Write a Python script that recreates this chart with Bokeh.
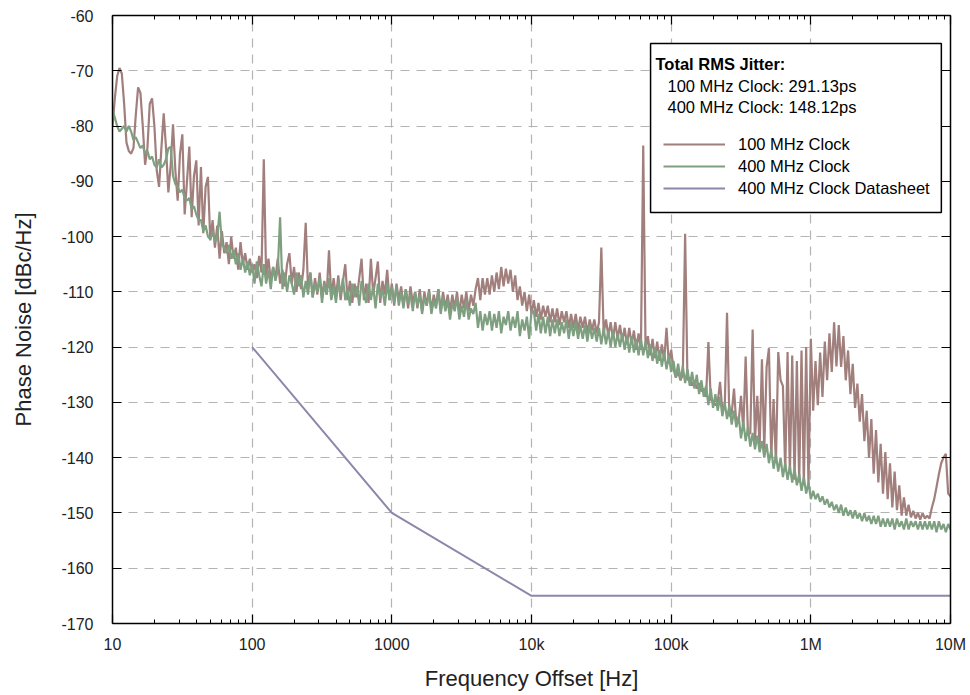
import numpy as np
from bokeh.plotting import figure
from bokeh.models import (Range1d, LogAxis, LinearAxis, FixedTicker, Legend, LegendItem,
                          Label, BoxAnnotation)
from bokeh.embed import file_html
from bokeh.resources import INLINE

# ---------------- data ----------------
# measurement grid: 60 points per decade, 10 Hz .. 10 MHz
freq = np.logspace(1, 7, 361)

pn_100mhz = [
    # 10 Hz .. 100 Hz
    -80, -75, -71, -69.5, -70.5, -76, -83, -84.5, -85, -84, -78, -73, -74, -80, -87, -84,
    -76, -75, -80, -88, -91, -84, -77.7, -84, -92, -87, -79.7, -88, -93.5, -85, -81.5, -96,
    -90, -83.7, -96.5, -89, -86.2, -98, -87.4, -99.4, -91, -89.2, -100.7, -97, -102, -98,
    -104, -99, -103, -101, -105, -100, -104, -102, -106, -101, -105, -103, -106, -104, -106.5,
    # 100 Hz .. 1 kHz
    -105, -107.5, -103.5, -106.5, -86, -107, -104, -108, -105.5, -107.5,
    -104, -108.5, -106, -109, -105, -103, -108.5, -105.5, -110, -106.5,
    -109.5, -106, -97.5, -109.5, -106.5, -111, -107.5, -110.5, -106.5, -111,
    -108, -110.5, -102.5, -111, -107.5, -111, -107, -111.5, -108, -105,
    -111.5, -108, -112, -108.5, -111, -107.5, -104, -111.5, -108.5, -112,
    -104, -110.5, -107.5, -104.5, -112, -108, -110.5, -106, -111.5, -108.5,
    # 1 kHz .. 10 kHz
    -112.5, -108.5, -111.5, -109, -112.5, -109.5, -113, -109, -112, -110,
    -113, -109.5, -113.5, -110, -112.5, -109.5, -113.5, -110.5, -112.5, -109.5,
    -113.5, -110, -113, -110.5, -113.5, -110.5, -113, -110, -114, -110.5,
    -113, -110, -113.5, -110.5, -112.5, -109.5, -107.5, -111.5, -107.5, -110.5,
    -107.5, -110.5, -107, -110, -106.5, -109.5, -105.5, -109, -105.8, -108.5,
    -106, -110, -107, -111.5, -109, -112.5, -110, -113.5, -110.5, -114,
    # 10 kHz .. 100 kHz
    -111.5, -114.5, -112, -115, -112.5, -114.5, -112.5, -115.5, -113, -115.5,
    -113, -116, -113.5, -115.5, -113.5, -116.5, -114, -116.5, -114, -117,
    -114.5, -116.5, -114.5, -117.5, -115, -117, -115, -117.5, -115.5, -102,
    -117.5, -115, -118, -115.5, -118.5, -115.5, -118.5, -116, -119, -116.5,
    -119.5, -116.5, -119.5, -117, -120.5, -117.5, -120.5, -83.5, -120.5, -118,
    -121.5, -118.5, -122, -119, -122.5, -119.5, -122.5, -116.5, -123, -120.5,
    # 100 kHz .. 1 MHz
    -124, -125.5, -124.5, -126, -125, -99.5, -126, -125.5, -127, -126,
    -127.5, -126.5, -128, -127.5, -129, -119.1, -129.5, -130, -130.5, -130,
    -126.3, -131.5, -131, -113.8, -132.5, -132, -127.5, -134, -133.5, -128.8,
    -135, -121.7, -136, -135.5, -116.8, -137, -128.8, -138, -122.2, -138.5,
    -123.6, -120.2, -140, -129.4, -141, -120.9, -126, -127, -142.5, -120.9,
    -143, -121.5, -144, -122.5, -144.5, -120.6, -145, -120, -145.5, -118.5,
    # 1 MHz .. 10 MHz
    -131.5, -122.5, -130.5, -121, -129, -119, -126, -117.5, -124.5, -115.5,
    -123.5, -116, -123.6, -118, -126, -120.6, -128.5, -123, -131, -126.6,
    -133.5, -128.5, -137, -131.5, -140, -133, -142.9, -135, -144.5, -137.5,
    -146.5, -139, -147.5, -141, -149, -142.5, -149.5, -145, -150.5, -147.2,
    -150.5, -148.5, -150.8, -149.6, -151, -150, -151.2, -150, -151, -150.5,
    -151, -149, -147.5, -145.3, -143, -141, -140, -139.3, -146.5, -147,
]

pn_400mhz = [
    # 10 Hz .. 100 Hz
    -77, -78.5, -80, -81, -80.5, -80, -81, -80, -81, -82.5,
    -82, -83, -84, -83.5, -85, -84.5, -86, -85.5, -87, -87.5,
    -86, -87.5, -87, -86, -84, -83.8, -89, -90.5, -91, -92,
    -91.5, -93, -93.5, -93, -95, -94.5, -96, -97, -97, -99,
    -98, -100, -100.5, -99, -101, -100, -95.5, -101.5, -102, -103,
    -101.5, -104, -102.5, -105, -103, -106, -104, -106.5, -104.5, -107, -105,
    # 100 Hz .. 1 kHz
    -108.5, -104.5, -107, -109, -105, -108.5, -106, -109.5, -105.5, -108,
    -106, -96.5, -109.5, -106.5, -110, -107, -108.5, -110.5, -106.5, -109,
    -107, -111, -108, -110.5, -106.5, -111, -108.5, -110, -107.5, -112,
    -108.5, -110.5, -107.5, -111.5, -109, -112, -108, -110.5, -107.5, -111.5,
    -109.5, -112.5, -108.5, -111, -109, -112.5, -108, -110.5, -112, -108.5,
    -111.5, -109, -113, -108.5, -111, -109.5, -112.5, -108.5, -111.5, -109,
    # 1 kHz .. 10 kHz
    -112, -109, -112.5, -110, -113, -109.5, -112, -110.5, -113.5, -110,
    -112.5, -110.5, -114, -111, -112.5, -110, -114, -111.5, -113, -109.5,
    -114, -111, -113.5, -111.5, -115, -112, -113.5, -111, -115, -112.5,
    -114.5, -111.5, -115, -113, -114, -112, -116.5, -113.5, -117, -114,
    -116, -113.5, -117, -114, -116.5, -113.5, -117.5, -114.5, -116, -113.5,
    -117, -114.5, -116.5, -113.5, -118, -115, -117, -114.5, -118.5, -113.5,
    # 10 kHz .. 100 kHz
    -113.5, -117, -114, -117.5, -114.5, -117.5, -114.5, -118, -115, -117.5,
    -115, -118, -115.5, -117.5, -115, -118.5, -115.5, -118, -115.5, -118.5,
    -116, -118.5, -116, -119, -116, -118.5, -116.5, -119, -116.5, -119.5,
    -116.5, -119.5, -117, -120, -117, -120, -117.5, -120, -117.5, -120.5,
    -118, -121, -118, -121, -118.5, -121.5, -118.5, -121.5, -119, -122,
    -119.5, -122.5, -120, -123, -120.5, -123.5, -121, -124, -121.5, -124.5,
    # 100 kHz .. 1 MHz
    -122.5, -125.5, -123, -126, -123.5, -126.5, -124, -127, -124.5, -127.5,
    -125, -128.5, -126, -129, -127, -130.5, -127.5, -131, -128.5, -131.5,
    -129, -132.5, -130, -133, -130.5, -134, -131.5, -134.5, -132.5, -136.5,
    -133.5, -137, -134.5, -138, -135.5, -138.5, -136, -139, -137, -140,
    -137.5, -141, -138.5, -142, -139.5, -142.5, -140, -143.5, -141, -144,
    -141.5, -144.5, -142, -145, -143, -146, -143.5, -146.5, -144.5, -147.5,
    # 1 MHz .. 10 MHz
    -146, -147.5, -146.5, -148, -147, -148.5, -147.5, -149, -148, -149.5,
    -148.5, -150, -148.5, -150.5, -149, -150.5, -149.5, -151, -149.5, -151,
    -150, -151.5, -150, -151.5, -150.5, -152, -150.5, -152, -150.5, -152.5,
    -151, -152.5, -151, -152.5, -151, -153, -151, -152.5, -151.5, -153,
    -151, -153, -151.5, -152.5, -151.5, -153, -151.5, -153, -151.5, -153,
    -151.5, -153, -151.5, -153.5, -151.5, -153, -152, -153.5, -152, -153,
]

ds_freq = [100, 1000, 10000, 10000000]
ds_pn = [-120, -150, -165, -165]

series_names = ["100 MHz Clock", "400 MHz Clock", "400 MHz Clock Datasheet"]
series_colors = ["#a17f7c", "#7e9f80", "#8a88ab"]

jitter_title = "Total RMS Jitter:"
jitter_clocks = ["100 MHz Clock", "400 MHz Clock"]
jitter_ps = [291.13, 148.12]

xtick_vals = [10, 100, 1000, 10000, 100000, 1000000, 10000000]
xtick_labels = ["10", "100", "1000", "10k", "100k", "1M", "10M"]
ytick_vals = [-170, -160, -150, -140, -130, -120, -110, -100, -90, -80, -70, -60]
ytick_labels = ["-170", "-160", "-150", "-140", "-130", "-120", "-110", "-100", "-90", "-80", "-70", "-60"]

assert len(pn_100mhz) == len(freq) and len(pn_400mhz) == len(freq)

FONT = "Liberation Sans"

# ---------------- figure ----------------
p = figure(width=970, height=695, x_axis_type="log",
           x_range=Range1d(10, 1e7), y_range=Range1d(-170, -60),
           output_backend="svg", toolbar_location=None,
           min_border_left=112, min_border_right=20, min_border_top=15, min_border_bottom=72)
p.background_fill_color = "white"
p.border_fill_color = "white"
p.outline_line_color = None

x_minor = [m * 10 ** k for k in range(1, 7) for m in range(2, 10)]
xticker = FixedTicker(ticks=xtick_vals, minor_ticks=x_minor)
yticker = FixedTicker(ticks=ytick_vals)

def style_axis(ax, show_labels=True):
    ax.axis_line_color = "black"
    ax.axis_line_width = 1.5
    ax.major_tick_in = 9
    ax.major_tick_out = 0
    ax.minor_tick_in = 4
    ax.minor_tick_out = 0
    ax.major_tick_line_color = "black"
    ax.major_tick_line_width = 1.2
    ax.minor_tick_line_color = "black"
    ax.minor_tick_line_width = 1
    ax.major_label_text_font = FONT
    ax.major_label_text_color = "#222222"
    ax.major_label_text_font_size = "16px"
    ax.axis_label_text_font = FONT
    ax.axis_label_text_font_style = "normal"
    ax.axis_label_text_font_size = "22px"
    ax.axis_label_text_color = "#222222"
    if not show_labels:
        ax.major_label_text_font_size = "1px"
        ax.major_label_text_alpha = 0
        ax.major_label_standoff = 0

xa = p.xaxis[0]
xa.ticker = xticker
xa.major_label_overrides = {v: s for v, s in zip(xtick_vals, xtick_labels)}
style_axis(xa)
xa.major_label_standoff = 12
xa.axis_label = "Frequency Offset [Hz]"
xa.axis_label_standoff = 10

ya = p.yaxis[0]
ya.ticker = yticker
ya.major_label_overrides = {v: s for v, s in zip(ytick_vals, ytick_labels)}
style_axis(ya)
ya.minor_tick_line_color = None
ya.major_label_standoff = 19
ya.axis_label = "Phase Noise [dBc/Hz]"
ya.axis_label_standoff = 22

top = LogAxis(ticker=xticker)
style_axis(top, show_labels=False)
p.add_layout(top, "above")

right = LinearAxis(ticker=yticker)
style_axis(right, show_labels=False)
right.minor_tick_line_color = None
p.add_layout(right, "right")

for g in (p.xgrid[0], p.ygrid[0]):
    g.grid_line_color = "#b3b3b3"
    g.grid_line_dash = "9 7"
    g.grid_line_width = 1.2
p.xgrid[0].ticker = xticker
p.ygrid[0].ticker = yticker

# ---------------- series ----------------
r1 = p.line(freq, pn_100mhz, line_color=series_colors[0], line_width=2.2)
r2 = p.line(freq, pn_400mhz, line_color=series_colors[1], line_width=2.2)
r3 = p.line(ds_freq, ds_pn, line_color=series_colors[2], line_width=2)

# ---------------- legend / jitter box ----------------
box = BoxAnnotation(left=7.12e4, right=8.6e6, top=-65.07, bottom=-95.64,
                    fill_color="white", fill_alpha=1.0,
                    line_color="black", line_width=1.5, line_alpha=1.0)
p.add_layout(box)

p.add_layout(Label(x=543, y=560, x_units="screen", y_units="screen",
                   text=jitter_title, text_font=FONT, text_font_style="bold",
                   text_font_size="16.5px", text_baseline="middle", text_color="black"))
for k, (name, ps) in enumerate(zip(jitter_clocks, jitter_ps)):
    p.add_layout(Label(x=555, y=538 - 21 * k, x_units="screen", y_units="screen",
                       text=f"{name}: {ps:.2f}ps", text_font=FONT,
                       text_font_size="16.5px", text_baseline="middle", text_color="black"))

legend = Legend(items=[LegendItem(label=n, renderers=[r]) for n, r in zip(series_names, [r1, r2, r3])],
                location=(551, 425), border_line_color=None, background_fill_alpha=0,
                padding=0, margin=0, spacing=2, glyph_width=62, glyph_height=20,
                label_height=20, label_standoff=13, label_text_font=FONT,
                label_text_font_size="16.5px", label_text_color="black")
p.add_layout(legend)

open("out.html", "w").write(file_html(p, INLINE))
